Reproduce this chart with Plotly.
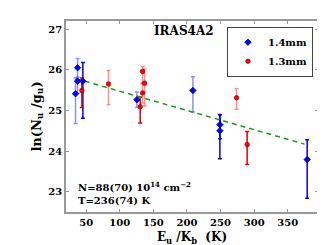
import plotly.graph_objects as go

# 1.4 mm data
b_x = [34.2, 37.2, 37.2, 45.1, 125.4, 208.8, 249.0, 249.0, 378.9]
b_y = [25.41, 26.05, 25.72, 25.72, 25.26, 25.49, 24.65, 24.50, 23.79]
b_up = [0.39, 0.23, 0.10, 0.46, 0.19, 0.34, 0.24, 0.40, 0.49]
b_dn = [0.73, 0.30, 0.30, 0.91, 0.19, 0.53, 0.35, 0.69, 0.95]
b_faint = [True, True, True, False, True, True, False, False, False]

# 1.3 mm data
r_x = [43.6, 83.3, 130.4, 133.9, 133.9, 136.9, 273.8, 289.6]
r_y = [25.49, 25.65, 25.09, 25.96, 25.43, 25.67, 25.31, 24.16]
r_up = [0.31, 0.33, 0.24, 0.12, 0.25, 0.35, 0.22, 0.32]
r_dn = [0.42, 0.51, 0.40, 0.30, 0.25, 0.56, 0.28, 0.49]
r_faint = [False, True, False, True, True, True, True, False]

# fitted line endpoints
fit_x = [35, 375]
fit_y = [25.78, 24.17]

x_ticks = [50, 100, 150, 200, 250, 300, 350]
y_ticks = [23, 24, 25, 26, 27]

FONT = "DejaVu Serif"

fig = go.Figure()


def add_bars(xs, ys, up, dn, faint, col_dark, col_faint):
    for want, col in ((True, col_faint), (False, col_dark)):
        idx = [i for i, f in enumerate(faint) if f == want]
        if not idx:
            continue
        fig.add_trace(go.Scatter(
            x=[xs[i] for i in idx], y=[ys[i] for i in idx], mode="markers",
            marker=dict(size=1, color="rgba(0,0,0,0)"),
            error_y=dict(type="data", array=[up[i] for i in idx],
                         arrayminus=[dn[i] for i in idx], symmetric=False,
                         color=col, thickness=1.5, width=2),
            showlegend=False, hoverinfo="skip"))


add_bars(b_x, b_y, b_up, b_dn, b_faint, "rgb(0,0,235)", "rgba(70,70,255,0.6)")
add_bars(r_x, r_y, r_up, r_dn, r_faint, "rgb(230,0,0)", "rgba(255,70,70,0.6)")

fig.add_trace(go.Scatter(x=fit_x, y=fit_y, mode="lines",
                         line=dict(color="#1a9a1a", width=1.5, dash="5px,4px"),
                         showlegend=False, hoverinfo="skip"))

fig.add_trace(go.Scatter(x=b_x, y=b_y, mode="markers", name="1.4mm",
                         marker=dict(symbol="diamond", size=5, color="#0000ff",
                                     line=dict(color="#00008b", width=0.7))))
fig.add_trace(go.Scatter(x=r_x, y=r_y, mode="markers", name="1.3mm",
                         marker=dict(symbol="circle", size=4.5, color="#ff0000",
                                     line=dict(color="#8b0000", width=0.7))))

axis_common = dict(showgrid=False, zeroline=False, showline=True, mirror="ticks",
                   linecolor="#999999", linewidth=1.5, ticks="inside", ticklen=3,
                   tickcolor="#999999",
                   tickfont=dict(family=FONT, size=10, color="black", weight="bold"))

fig.update_xaxes(range=[20, 395], tickvals=x_ticks,
                 title=dict(text="<b>E<sub>u</sub> /K<sub>b</sub>  (K)</b>",
                            font=dict(family=FONT, size=12, color="black"), standoff=6),
                 **axis_common)
fig.update_yaxes(range=[22.5, 27.2], tickvals=y_ticks,
                 title=dict(text="<b>ln(N<sub>u</sub> /g<sub>u</sub>)</b>",
                            font=dict(family=FONT, size=13, color="black"), standoff=4),
                 **axis_common)

fig.update_layout(
    width=325, height=245,
    margin=dict(l=58, r=15, t=11, b=37),
    paper_bgcolor="white", plot_bgcolor="white",
    font=dict(family=FONT, color="black"),
    legend=dict(x=0.98, y=0.97, xanchor="right", yanchor="top",
                bgcolor="white", bordercolor="#444444", borderwidth=1,
                font=dict(family=FONT, size=10, color="black", weight="bold"),
                itemwidth=30, tracegroupgap=0),
    annotations=[
        dict(x=0.47, y=0.95, xref="paper", yref="paper", text="<b>IRAS4A2</b>",
             showarrow=False, xanchor="center", yanchor="middle",
             font=dict(family=FONT, size=12, color="black")),
        dict(x=0.04, y=0.135, xref="paper", yref="paper",
             text="<b>N=88(70) 10<sup>14</sup> cm<sup>−2</sup></b>",
             showarrow=False, xanchor="left", yanchor="middle",
             font=dict(family=FONT, size=10, color="black")),
        dict(x=0.04, y=0.06, xref="paper", yref="paper",
             text="<b>T=236(74) K</b>",
             showarrow=False, xanchor="left", yanchor="middle",
             font=dict(family=FONT, size=10, color="black")),
    ],
)

fig.write_html("out.html")
